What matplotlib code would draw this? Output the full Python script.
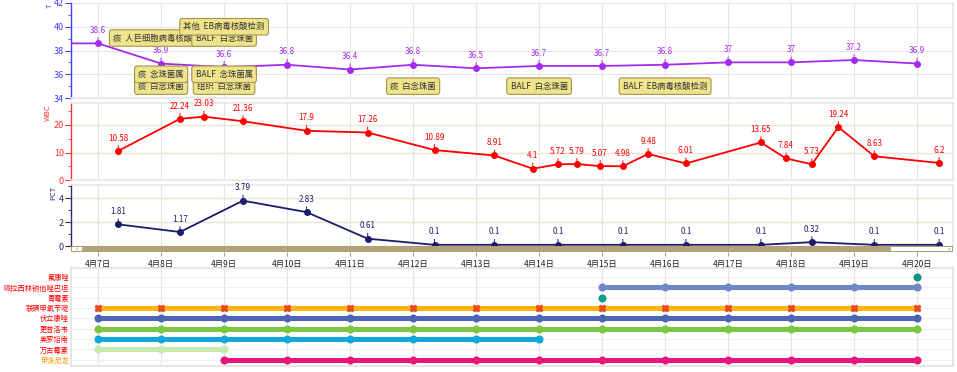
import numpy as np
import matplotlib
matplotlib.use("Agg")
import matplotlib.pyplot as plt
from matplotlib.patches import Rectangle
from matplotlib.ticker import MultipleLocator

plt.rcParams['font.family'] = ['Noto Sans CJK SC', 'DejaVu Sans']

# ---- 数据 (天数以 4月7日 0点 为 0) ----
date_labels = ['4月7日', '4月8日', '4月9日', '4月10日', '4月11日', '4月12日', '4月13日',
               '4月14日', '4月15日', '4月16日', '4月17日', '4月18日', '4月19日', '4月20日']

t_days = [-1, 0, 1, 2, 3, 4, 5, 6, 7, 8, 9, 10, 11, 12, 13]
t_vals = [38.6, 38.6, 36.9, 36.6, 36.8, 36.4, 36.8, 36.5, 36.7, 36.7, 36.8, 37, 37, 37.2, 36.9]

wbc_days = [0.32, 1.30, 1.68, 2.30, 3.31, 4.28, 5.34, 6.29, 6.90, 7.30, 7.60, 7.97,
            8.33, 8.73, 9.33, 10.52, 10.92, 11.33, 11.75, 12.32, 13.35]
wbc_vals = [10.58, 22.24, 23.03, 21.36, 17.9, 17.26, 10.89, 8.91, 4.1, 5.72, 5.79, 5.07,
            4.98, 9.48, 6.01, 13.65, 7.84, 5.73, 19.24, 8.63, 6.2]

pct_days = [0.32, 1.30, 2.30, 3.31, 4.28, 5.34, 6.29, 7.30, 8.33, 9.33, 10.52, 11.33, 12.32, 13.35]
pct_vals = [1.81, 1.17, 3.79, 2.83, 0.61, 0.1, 0.1, 0.1, 0.1, 0.1, 0.1, 0.32, 0.1, 0.1]

# 检验事件: 日期, 层级, 文本
event_days = [1, 1, 1, 2, 2, 2, 2, 5, 7, 9]
event_level = [0, 1, 2, 0, 1, 2, 3, 0, 0, 0]
event_text = ['痰  白念珠菌', '痰  念珠菌属', '痰  人巨细胞病毒核酸检测',
              '组织  白念珠菌', 'BALF  念珠菌属', 'BALF  白念珠菌', '其他  EB病毒核酸检测',
              '痰  白念珠菌', 'BALF  白念珠菌', 'BALF  EB病毒核酸检测']

drugs = ['氟康唑', '哌拉西林钠他唑巴坦', '青霉素', '联磺甲氧苄啶', '伏立康唑',
         '更昔洛韦', '美罗培南', '万古霉素', '甲泼尼龙']
drug_start = [13, 8, 8, 0, 0, 0, 0, 0, 2]
drug_end = [13, 13, 8, 13, 13, 13, 7, 2, 13]
drug_colors = ['#13907f', '#7186c6', '#139a88', '#ffb612', '#4a66b4',
               '#7cc741', '#10a8d8', '#c6e9ad', '#e8157c']
drug_label_colors = ['#ff0000'] * 8 + ['#ff9900']

XLIM = (-0.43, 13.57)
W, H = 957, 372

fig = plt.figure(figsize=(W / 100, H / 100), dpi=100)


def px_axes(l, t, r, b):
    return fig.add_axes([l / W, 1 - b / H, (r - l) / W, (b - t) / H])


def style_axis(ax, color, ylim, major, minor):
    ax.set_xlim(*XLIM)
    ax.set_ylim(*ylim)
    ax.set_xticks(range(14))
    ax.tick_params(axis='x', length=0, labelbottom=False)
    ax.yaxis.set_major_locator(MultipleLocator(major))
    ax.yaxis.set_minor_locator(MultipleLocator(minor))
    ax.tick_params(axis='y', which='major', colors=color, labelsize=6.5, length=4, width=0.8, pad=1)
    ax.tick_params(axis='y', which='minor', colors=color, length=2, width=0.6)
    for s in ['top', 'right', 'bottom']:
        ax.spines[s].set_color('#e6e6e6')
        ax.spines[s].set_linewidth(1.2)
    ax.spines['left'].set_color(color)
    ax.spines['left'].set_linewidth(1.0)
    ax.grid(axis='x', color='#e4e4e4', lw=0.8)


def plot_series(ax, xs, ys, color, off=6):
    ax.plot(xs, ys, color=color, lw=1.3, marker='o', ms=4, zorder=3, clip_on=True)
    x0, x1 = XLIM
    for x, y in zip(xs, ys):
        if x0 <= x <= x1:
            ax.annotate(f'{y:g}', xy=(x, y), xytext=(0, off), textcoords='offset points',
                        ha='center', va='bottom', fontsize=5.8, color=color,
                        arrowprops=dict(arrowstyle='-', color=color, lw=0.7,
                                        shrinkA=0, shrinkB=0), zorder=4)


# ---- 体温 ----
ax_t = px_axes(71, 3, 953, 98)
style_axis(ax_t, '#4040ff', (34, 42), 2, 1)
ax_t.grid(axis='y', color='#e4e4e4', lw=0.8)
ax_t.spines['top'].set_visible(False)
plot_series(ax_t, t_days, t_vals, '#a52af0')

level_y = [35.0, 36.0, 39.05, 40.0]
for d, lv, txt in zip(event_days, event_level, event_text):
    ax_t.text(d, level_y[lv], txt, ha='center', va='center', fontsize=6, color='#333333',
              zorder=5 + d,
              bbox=dict(boxstyle='round,pad=0.45,rounding_size=0.3', fc='#efe48c',
                        ec='#a8944c', lw=0.8))

# ---- WBC ----
ax_w = px_axes(71, 103, 953, 180)
style_axis(ax_w, '#ff3333', (0, 28), 10, 5)
ax_w.grid(axis='y', color='#ece4d4', lw=1.0)
plot_series(ax_w, wbc_days, wbc_vals, '#ff0000')

# ---- PCT ----
ax_p = px_axes(71, 185, 953, 246)
style_axis(ax_p, '#2b2b6e', (0, 5.1), 2, 1)
ax_p.grid(axis='y', color='#ece4d4', lw=1.0)
ax_p.spines['bottom'].set_visible(False)
plot_series(ax_p, pct_days, pct_vals, '#1c1c6a')

# y 轴标题
fig.text(50 / W, 1 - 4 / H, 'T', fontsize=5.5, color='#4040ff', rotation=90, ha='center', va='top')
fig.text(48 / W, 1 - 104 / H, 'WBC', fontsize=5.5, color='#ff3333', rotation=90, ha='center', va='top')
fig.text(53 / W, 1 - 186 / H, 'PCT', fontsize=5.5, color='#2b2b6e', rotation=90, ha='center', va='top')

# ---- 滚动条与日期刻度 ----
ax_s = px_axes(71, 246, 953, 252)
ax_s.set_xlim(*XLIM)
ax_s.set_ylim(0, 1)
ax_s.add_patch(Rectangle((0, 0), 1, 1, transform=ax_s.transAxes, fc='white', ec='#a48d55', lw=1.2))
ax_s.add_patch(Rectangle((0.012, 0.12), 0.918, 0.76, transform=ax_s.transAxes, fc='#b3a27e', ec='none'))
ax_s.text(0.006, 0.5, '‹', transform=ax_s.transAxes, fontsize=5, ha='center', va='center', color='#555')
ax_s.text(0.995, 0.5, '›', transform=ax_s.transAxes, fontsize=5, ha='center', va='center', color='#555')
ax_s.set_yticks([])
ax_s.set_xticks(range(14))
ax_s.set_xticklabels(date_labels)
ax_s.tick_params(axis='x', length=3, width=0.6, color='#a48d55', labelsize=6, pad=3, labelcolor='#222222')
for s in ax_s.spines.values():
    s.set_visible(False)

# ---- 用药 ----
ax_d = px_axes(71, 268, 953, 366)
ax_d.set_xlim(*XLIM)
ax_d.set_ylim(8.6, -0.88)
ax_d.set_yticks(range(len(drugs)))
ax_d.set_yticklabels(drugs)
for lab, c in zip(ax_d.get_yticklabels(), drug_label_colors):
    lab.set_color(c)
ax_d.tick_params(axis='y', length=0, labelsize=5.2, pad=1.5)
ax_d.set_xticks(range(14))
ax_d.tick_params(axis='x', length=0, labelbottom=False)
ax_d.grid(axis='x', color='#e4e4e4', lw=0.8)
ax_d.grid(axis='y', color='#efefef', lw=0.8)
for s in ax_d.spines.values():
    s.set_color('#e2e2e2')
    s.set_linewidth(1.2)

for i, (s0, e0, c) in enumerate(zip(drug_start, drug_end, drug_colors)):
    days = np.arange(s0, e0 + 1)
    if i == 3:
        ax_d.plot(days, [i] * len(days), color=c, lw=3.6, solid_capstyle='butt', zorder=3)
        ax_d.plot(days, [i] * len(days), ls='none', marker='X', ms=4.5, color='#e84a1c', zorder=4)
    else:
        ax_d.plot(days, [i] * len(days), color=c, lw=3.6, solid_capstyle='round', zorder=3)
        ax_d.plot(days, [i] * len(days), ls='none', marker='o', ms=4.8, color=c, zorder=4)

fig.savefig('out.png', dpi=100)
